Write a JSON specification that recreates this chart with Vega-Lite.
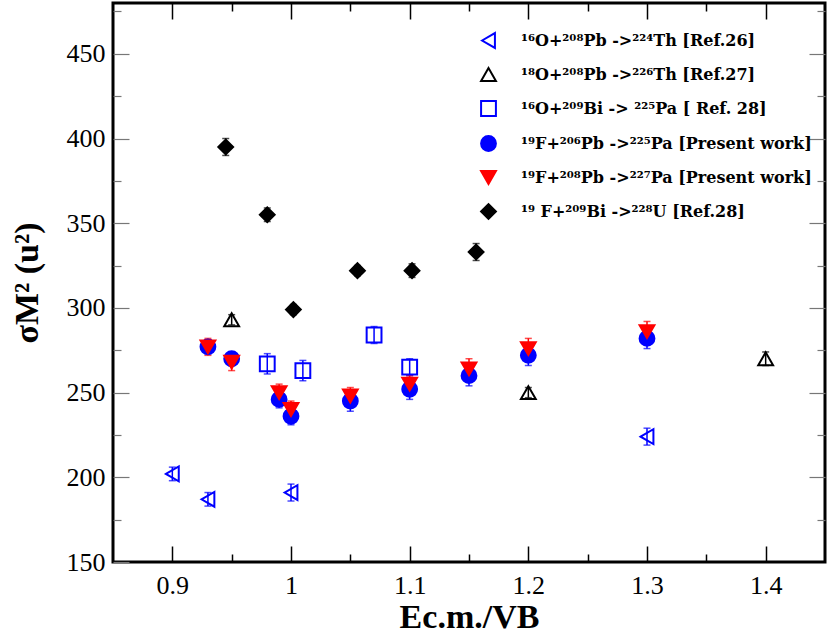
{
  "$schema": "https://vega.github.io/schema/vega-lite/v6.json",
  "width": 712,
  "height": 559,
  "autosize": {"type": "none"},
  "padding": {"left": 113, "top": 3, "right": 5, "bottom": 81},
  "background": "white",
  "config": {
    "font": "Liberation Serif",
    "view": {"stroke": "black", "strokeWidth": 3},
    "axis": {
      "grid": false,
      "domain": false,
      "labelFont": "Liberation Serif",
      "labelFontSize": 26,
      "labelColor": "black",
      "titleFont": "Liberation Serif",
      "titleFontWeight": "bold",
      "titleColor": "black",
      "titleFontSize": 34
    },
    "legend": {
      "labelFont": "DejaVu Serif",
      "labelFontSize": 16,
      "labelFontWeight": "bold",
      "labelColor": "black",
      "labelLimit": 400,
      "symbolSize": 220,
      "symbolStrokeWidth": 2,
      "symbolOpacity": 1,
      "rowPadding": 12,
      "labelOffset": 24
    }
  },
  "datasets": {
    "pts": [
      {"series": "¹⁶O+²⁰⁸Pb ->²²⁴Th [Ref.26]", "x": 0.9, "y": 202, "err": 4},
      {"series": "¹⁶O+²⁰⁸Pb ->²²⁴Th [Ref.26]", "x": 0.93, "y": 187, "err": 4},
      {"series": "¹⁶O+²⁰⁸Pb ->²²⁴Th [Ref.26]", "x": 1.0, "y": 191, "err": 5},
      {"series": "¹⁶O+²⁰⁸Pb ->²²⁴Th [Ref.26]", "x": 1.3, "y": 224, "err": 5},
      {"series": "¹⁸O+²⁰⁸Pb ->²²⁶Th [Ref.27]", "x": 0.95, "y": 293, "err": 3},
      {"series": "¹⁸O+²⁰⁸Pb ->²²⁶Th [Ref.27]", "x": 1.2, "y": 250, "err": 3},
      {"series": "¹⁸O+²⁰⁸Pb ->²²⁶Th [Ref.27]", "x": 1.4, "y": 270, "err": 4},
      {"series": "¹⁶O+²⁰⁹Bi -> ²²⁵Pa [ Ref. 28]", "x": 0.98, "y": 267, "err": 6},
      {"series": "¹⁶O+²⁰⁹Bi -> ²²⁵Pa [ Ref. 28]", "x": 1.01, "y": 263, "err": 6},
      {"series": "¹⁶O+²⁰⁹Bi -> ²²⁵Pa [ Ref. 28]", "x": 1.07, "y": 284, "err": 5},
      {"series": "¹⁶O+²⁰⁹Bi -> ²²⁵Pa [ Ref. 28]", "x": 1.1, "y": 265, "err": 5},
      {"series": "¹⁹F+²⁰⁶Pb ->²²⁵Pa [Present work]", "x": 0.93, "y": 277, "err": 4},
      {"series": "¹⁹F+²⁰⁶Pb ->²²⁵Pa [Present work]", "x": 0.95, "y": 270, "err": 4},
      {"series": "¹⁹F+²⁰⁶Pb ->²²⁵Pa [Present work]", "x": 0.99, "y": 246, "err": 5},
      {"series": "¹⁹F+²⁰⁶Pb ->²²⁵Pa [Present work]", "x": 1.0, "y": 236, "err": 5},
      {"series": "¹⁹F+²⁰⁶Pb ->²²⁵Pa [Present work]", "x": 1.05, "y": 245, "err": 6},
      {"series": "¹⁹F+²⁰⁶Pb ->²²⁵Pa [Present work]", "x": 1.1, "y": 252, "err": 6},
      {"series": "¹⁹F+²⁰⁶Pb ->²²⁵Pa [Present work]", "x": 1.15, "y": 260, "err": 6},
      {"series": "¹⁹F+²⁰⁶Pb ->²²⁵Pa [Present work]", "x": 1.2, "y": 272, "err": 6},
      {"series": "¹⁹F+²⁰⁶Pb ->²²⁵Pa [Present work]", "x": 1.3, "y": 282, "err": 6},
      {"series": "¹⁹F+²⁰⁸Pb ->²²⁷Pa [Present work]", "x": 0.93, "y": 277, "err": 5},
      {"series": "¹⁹F+²⁰⁸Pb ->²²⁷Pa [Present work]", "x": 0.95, "y": 268, "err": 5},
      {"series": "¹⁹F+²⁰⁸Pb ->²²⁷Pa [Present work]", "x": 0.99, "y": 250, "err": 5},
      {"series": "¹⁹F+²⁰⁸Pb ->²²⁷Pa [Present work]", "x": 1.0, "y": 240, "err": 5},
      {"series": "¹⁹F+²⁰⁸Pb ->²²⁷Pa [Present work]", "x": 1.05, "y": 248, "err": 5},
      {"series": "¹⁹F+²⁰⁸Pb ->²²⁷Pa [Present work]", "x": 1.1, "y": 255, "err": 5},
      {"series": "¹⁹F+²⁰⁸Pb ->²²⁷Pa [Present work]", "x": 1.15, "y": 264, "err": 6},
      {"series": "¹⁹F+²⁰⁸Pb ->²²⁷Pa [Present work]", "x": 1.2, "y": 276, "err": 6},
      {"series": "¹⁹F+²⁰⁸Pb ->²²⁷Pa [Present work]", "x": 1.3, "y": 286, "err": 6},
      {"series": "¹⁹ F+²⁰⁹Bi ->²²⁸U   [Ref.28]", "x": 0.945, "y": 395, "err": 5},
      {"series": "¹⁹ F+²⁰⁹Bi ->²²⁸U   [Ref.28]", "x": 0.98, "y": 355, "err": 4},
      {"series": "¹⁹ F+²⁰⁹Bi ->²²⁸U   [Ref.28]", "x": 1.002, "y": 299, "err": 3},
      {"series": "¹⁹ F+²⁰⁹Bi ->²²⁸U   [Ref.28]", "x": 1.056, "y": 322, "err": 3},
      {"series": "¹⁹ F+²⁰⁹Bi ->²²⁸U   [Ref.28]", "x": 1.102, "y": 322, "err": 4},
      {"series": "¹⁹ F+²⁰⁹Bi ->²²⁸U   [Ref.28]", "x": 1.156, "y": 333, "err": 5}
    ]
  },
  "data": {"name": "pts"},
  "layer": [
    {
      "transform": [{"filter": {"field": "series", "oneOf": ["¹⁶O+²⁰⁸Pb ->²²⁴Th [Ref.26]", "¹⁶O+²⁰⁹Bi -> ²²⁵Pa [ Ref. 28]", "¹⁹F+²⁰⁶Pb ->²²⁵Pa [Present work]"]}}],
      "mark": {"type": "errorbar", "ticks": {"size": 7}, "thickness": 1.5, "color": "#0000ff"},
      "encoding": {
        "x": {
          "field": "x",
          "type": "quantitative",
          "scale": {"domain": [0.85, 1.45], "nice": false, "zero": false},
          "axis": {
            "orient": "top",
            "title": null,
            "labels": false,
            "values": [0.9, 0.95, 1.0, 1.05, 1.1, 1.15, 1.2, 1.25, 1.3, 1.35, 1.4],
            "tickColor": "black",
            "tickWidth": 1.5,
            "tickSize": {"condition": {"test": "abs(datum.value*10 - round(datum.value*10)) < 0.001", "value": -16}, "value": -8}
          }
        },
        "y": {
          "field": "y",
          "type": "quantitative",
          "scale": {"domain": [150, 480], "nice": false, "zero": false},
          "axis": {
            "orient": "right",
            "title": null,
            "labels": false,
            "values": [175, 200, 225, 250, 275, 300, 325, 350, 375, 400, 425, 450, 475],
            "tickColor": "#777777",
            "tickWidth": 1.2,
            "tickSize": {"condition": {"test": "datum.value % 50 === 0", "value": -16}, "value": -8}
          }
        },
        "yError": {"field": "err"}
      }
    },
    {
      "transform": [{"filter": {"field": "series", "oneOf": ["¹⁸O+²⁰⁸Pb ->²²⁶Th [Ref.27]", "¹⁹ F+²⁰⁹Bi ->²²⁸U   [Ref.28]"]}}],
      "mark": {"type": "errorbar", "ticks": {"size": 7}, "thickness": 1.5, "color": "black"},
      "encoding": {
        "x": {"field": "x", "type": "quantitative", "axis": null},
        "y": {"field": "y", "type": "quantitative", "axis": null},
        "yError": {"field": "err"}
      }
    },
    {
      "transform": [{"filter": {"field": "series", "oneOf": ["¹⁹F+²⁰⁸Pb ->²²⁷Pa [Present work]"]}}],
      "mark": {"type": "errorbar", "ticks": {"size": 7}, "thickness": 1.5, "color": "#ff0000"},
      "encoding": {
        "x": {"field": "x", "type": "quantitative", "axis": null},
        "y": {"field": "y", "type": "quantitative", "axis": null},
        "yError": {"field": "err"}
      }
    },
    {
      "mark": {"type": "point", "size": 220, "strokeWidth": 2, "opacity": 1},
      "encoding": {
        "x": {
          "field": "x",
          "type": "quantitative",
          "axis": {
            "orient": "bottom",
            "values": [0.9, 0.95, 1.0, 1.05, 1.1, 1.15, 1.2, 1.25, 1.3, 1.35, 1.4],
            "format": "~g",
            "labelExpr": "abs(datum.value*10 - round(datum.value*10)) < 0.001 ? datum.label : ''",
            "tickColor": "black",
            "tickWidth": 1.5,
            "tickSize": {"condition": {"test": "abs(datum.value*10 - round(datum.value*10)) < 0.001", "value": -16}, "value": -8},
            "labelPadding": 26,
            "title": "Ec.m./VB",
            "titlePadding": 2
          }
        },
        "y": {
          "field": "y",
          "type": "quantitative",
          "axis": {
            "orient": "left",
            "values": [150, 175, 200, 225, 250, 275, 300, 325, 350, 375, 400, 425, 450, 475],
            "labelExpr": "datum.value % 50 === 0 ? datum.label : ''",
            "tickColor": "#777777",
            "tickWidth": 1.2,
            "tickSize": {"condition": {"test": "datum.value % 50 === 0", "value": -16}, "value": -8},
            "labelPadding": 24,
            "title": "σM² (u²)",
            "titlePadding": 22
          }
        },
        "shape": {
          "field": "series",
          "type": "nominal",
          "scale": {
            "domain": [
              "¹⁶O+²⁰⁸Pb ->²²⁴Th [Ref.26]",
              "¹⁸O+²⁰⁸Pb ->²²⁶Th [Ref.27]",
              "¹⁶O+²⁰⁹Bi -> ²²⁵Pa [ Ref. 28]",
              "¹⁹F+²⁰⁶Pb ->²²⁵Pa [Present work]",
              "¹⁹F+²⁰⁸Pb ->²²⁷Pa [Present work]",
              "¹⁹ F+²⁰⁹Bi ->²²⁸U   [Ref.28]"
            ],
            "range": ["triangle-left", "triangle-up", "square", "circle", "triangle-down", "diamond"]
          },
          "legend": {"title": null, "orient": "none", "legendX": 367, "legendY": 29}
        },
        "fill": {
          "field": "series",
          "type": "nominal",
          "scale": {
            "domain": [
              "¹⁶O+²⁰⁸Pb ->²²⁴Th [Ref.26]",
              "¹⁸O+²⁰⁸Pb ->²²⁶Th [Ref.27]",
              "¹⁶O+²⁰⁹Bi -> ²²⁵Pa [ Ref. 28]",
              "¹⁹F+²⁰⁶Pb ->²²⁵Pa [Present work]",
              "¹⁹F+²⁰⁸Pb ->²²⁷Pa [Present work]",
              "¹⁹ F+²⁰⁹Bi ->²²⁸U   [Ref.28]"
            ],
            "range": ["transparent", "transparent", "transparent", "#0000ff", "#ff0000", "black"]
          },
          "legend": {"title": null, "orient": "none", "legendX": 367, "legendY": 29}
        },
        "stroke": {
          "field": "series",
          "type": "nominal",
          "scale": {
            "domain": [
              "¹⁶O+²⁰⁸Pb ->²²⁴Th [Ref.26]",
              "¹⁸O+²⁰⁸Pb ->²²⁶Th [Ref.27]",
              "¹⁶O+²⁰⁹Bi -> ²²⁵Pa [ Ref. 28]",
              "¹⁹F+²⁰⁶Pb ->²²⁵Pa [Present work]",
              "¹⁹F+²⁰⁸Pb ->²²⁷Pa [Present work]",
              "¹⁹ F+²⁰⁹Bi ->²²⁸U   [Ref.28]"
            ],
            "range": ["#0000ff", "black", "#0000ff", "#0000ff", "#ff0000", "black"]
          },
          "legend": {"title": null, "orient": "none", "legendX": 367, "legendY": 29}
        }
      }
    }
  ],
  "resolve": {"axis": {"x": "independent", "y": "independent"}}
}
